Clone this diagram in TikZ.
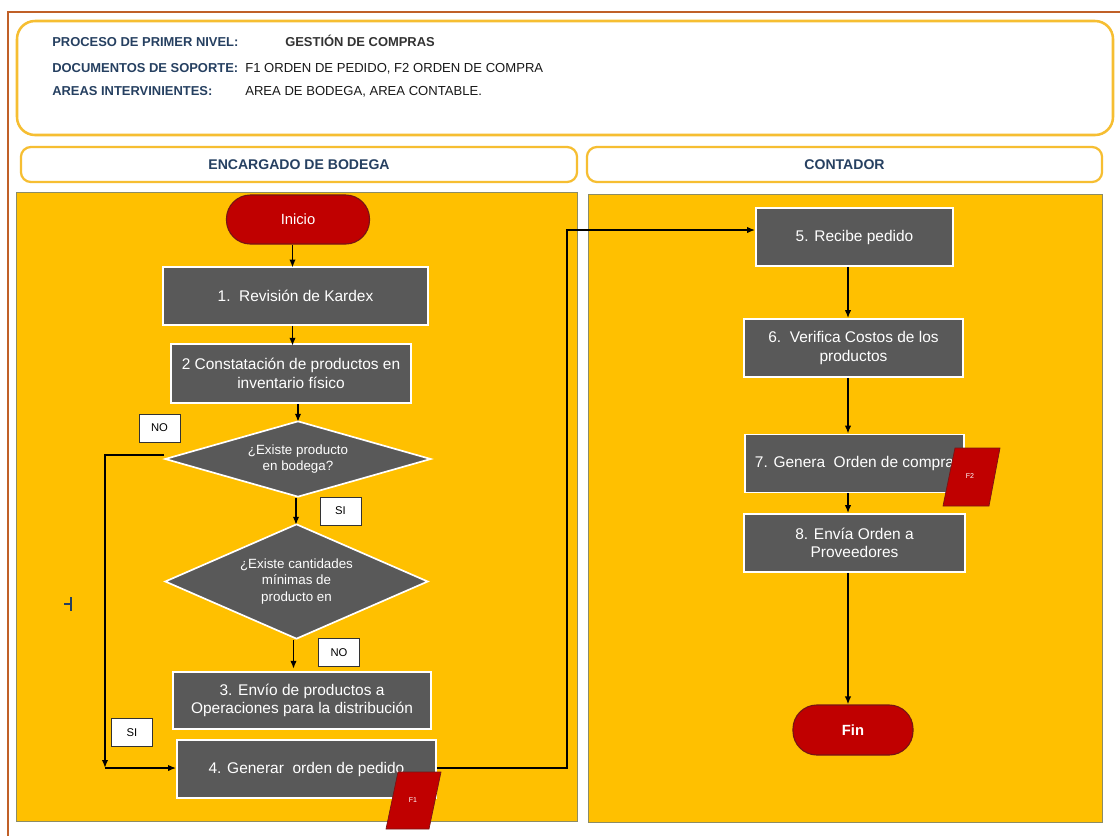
\documentclass[tikz,border=0pt]{standalone}
\usepackage{fontspec}
\setmainfont{Liberation Sans}
\usetikzlibrary{arrows.meta,shapes.geometric}
\definecolor{oro}{RGB}{255,192,0}
\definecolor{gris}{RGB}{89,89,89}
\definecolor{rojo}{RGB}{192,0,0}
\definecolor{rojoosc}{RGB}{120,20,20}
\definecolor{azul}{RGB}{38,64,97}
\definecolor{borde}{RGB}{246,190,50}
\definecolor{marron}{RGB}{192,96,40}
\definecolor{oliva}{RGB}{140,140,100}

\begin{document}
\begin{tikzpicture}[x=0.025cm, y=-0.025cm,
  paso/.style={draw=white, line width=1.2pt, fill=gris, text=white, align=center,
    font=\fontsize{11}{13}\selectfont, inner sep=2pt, minimum height=1.45cm},
  pregunta/.style={diamond, draw=white, line width=1.2pt, fill=gris, text=white, align=center,
    font=\fontsize{9.5}{11.5}\selectfont, inner sep=0pt},
  terminal/.style={draw=rojoosc, line width=0.8pt, fill=rojo, text=white, rounded corners=0.6cm,
    font=\fontsize{10.5}{12}\selectfont},
  etiq/.style={draw=black!80, line width=0.5pt, fill=white, minimum width=1.025cm,
    minimum height=0.7cm, font=\fontsize{8}{9}\selectfont},
  carril/.style={draw=borde, line width=1.6pt, fill=white, rounded corners=0.25cm,
    minimum height=0.875cm, text=azul, font=\bfseries\fontsize{10}{12}\selectfont},
  cab/.style={anchor=base west, inner sep=0pt, text=azul, font=\bfseries\fontsize{9.2}{11}\selectfont},
  dato/.style={anchor=base west, inner sep=0pt, text=black!90, font=\fontsize{9.3}{11}\selectfont},
  doc/.style={draw=rojoosc, line width=0.5pt, fill=rojo},
  flecha/.style={line width=1.1pt, -{Latex[length=2mm,width=1.6mm]}}]

\pgfmathsetmacro{\xl}{105}
\pgfmathsetmacro{\xr}{567}
\pgfmathsetmacro{\xc}{848}

\useasboundingbox (0,0) rectangle (1120,836);
\fill[white] (0,0) rectangle (1120,836);
\draw[marron, line width=1.8pt] (1125,12) -- (8,12) -- (8,845);

\draw[borde, line width=1.8pt, fill=white, rounded corners=0.45cm] (17,21) rectangle (1113,135);
\node[cab] (n1) at (52,46) {PROCESO DE PRIMER NIVEL:};
\node[dato, font=\bfseries\fontsize{9.2}{11}\selectfont, text=black!80] (g1) at (285,46) {GESTIÓN DE COMPRAS};
\node[cab] (n2) at (52,72) {DOCUMENTOS DE SOPORTE:};
\node[dato] (g2) at (245,72) {F1 ORDEN DE PEDIDO, F2 ORDEN DE COMPRA};
\node[cab] (n3) at (52,95) {AREAS INTERVINIENTES:};
\node[dato] (g3) at (245,95) {AREA DE BODEGA, AREA CONTABLE.};

\node[carril, minimum width=13.9cm] (bodega) at (299,164.5) {ENCARGADO DE BODEGA};
\node[carril, minimum width=12.875cm] (contador) at (844.5,164.5) {CONTADOR};

\draw[oliva, line width=0.7pt, fill=oro] (16,192) rectangle (577,821);
\draw[oliva, line width=0.7pt, fill=oro] (588,194) rectangle (1102,822);

\node[terminal, minimum width=3.575cm, minimum height=1.225cm] (inicio) at (298,219.5) {Inicio};
\node[paso, minimum width=6.625cm] (k1) at (295.5,296) {1.\ \ Revisión de Kardex};
\node[paso, minimum width=6cm, minimum height=1.475cm] (k2) at (291,373.5) {2 Constatación de productos en\\inventario físico};
\node[pregunta, aspect=3.5, minimum width=6.65cm, minimum height=1.9cm] (d1) at (298,459) {¿Existe producto\\en bodega?};
\node[pregunta, aspect=2.29, minimum width=6.575cm, minimum height=2.875cm] (d2) at (296.5,581.5) {¿Existe cantidades\\mínimas de\\producto en};
\node[paso, minimum width=6.45cm, minimum height=1.425cm] (k3) at (302,700.5) {3. Envío de productos a\\Operaciones para la distribución};
\node[paso, minimum width=6.475cm] (k4) at (306.5,769) {4. Generar\ \ orden de pedido};

\node[etiq] (no1) at (159.5,428) {NO};
\node[etiq] (si1) at (340.5,511) {SI};
\node[etiq] (no2) at (339,652.5) {NO};
\node[etiq] (si2) at (132,732.5) {SI};

\draw[azul, line width=0.8pt] (64,604) -- (71,604) (71,597) -- (71,611);

\draw[doc] (398,772) -- (441,772) -- (429,829) -- (386,829) -- cycle;
\node[text=white, font=\fontsize{5}{6}\selectfont] (f1) at (413,800) {F1};

\node[paso, minimum width=4.925cm] (r5) at (854.5,237) {5. Recibe pedido};
\node[paso, minimum width=5.475cm] (r6) at (853.5,348) {6.\ \ Verifica Costos de los\\productos};
\node[paso, minimum width=5.475cm] (r7) at (854.5,463.5) {7. Genera\ \ Orden de compra};
\node[paso, minimum width=5.525cm] (r8) at (854.5,543) {8. Envía Orden a\\Proveedores};
\node[terminal, minimum width=3cm, minimum height=1.25cm, font=\bfseries\fontsize{10.5}{12}\selectfont] (fin) at (853,730) {Fin};

\draw[doc] (955,448) -- (1000,448) -- (989,506) -- (943,506) -- cycle;
\node[text=white, font=\fontsize{5}{6}\selectfont] (f2) at (970,476) {F2};

\draw[flecha] (inicio.south -| k1) ++(-3,0) -- ++(0,23);
\draw[flecha] (k1.south) ++(-3,0) -- ++(0,20);
\draw[flecha] (k2.south) ++(7,0) -- ++(0,18);
\draw[flecha] (d1.south) ++(-2,0) -- ++(0,27);
\draw[flecha] (d2.south) ++(-3,0) -- ++(0,29);
\draw[flecha] (d1.west) ++(0,-4) -- (\xl,455) -- (\xl,768);
\draw[flecha] (\xl,768) -- (k4.west |- 0,768);
\draw[flecha] (k4.east) ++(0,-1) -- (\xr,768) -- (\xr,230) -- (r5.west |- 0,230);

\draw[flecha] (r5.south -| \xc,0) -- (r6.north -| \xc,0);
\draw[flecha] (r6.south -| \xc,0) -- (r7.north -| \xc,0);
\draw[flecha] (r7.south -| \xc,0) -- (r8.north -| \xc,0);
\draw[flecha] (r8.south -| \xc,0) -- (fin.north -| \xc,0);
\end{tikzpicture}
\end{document}
